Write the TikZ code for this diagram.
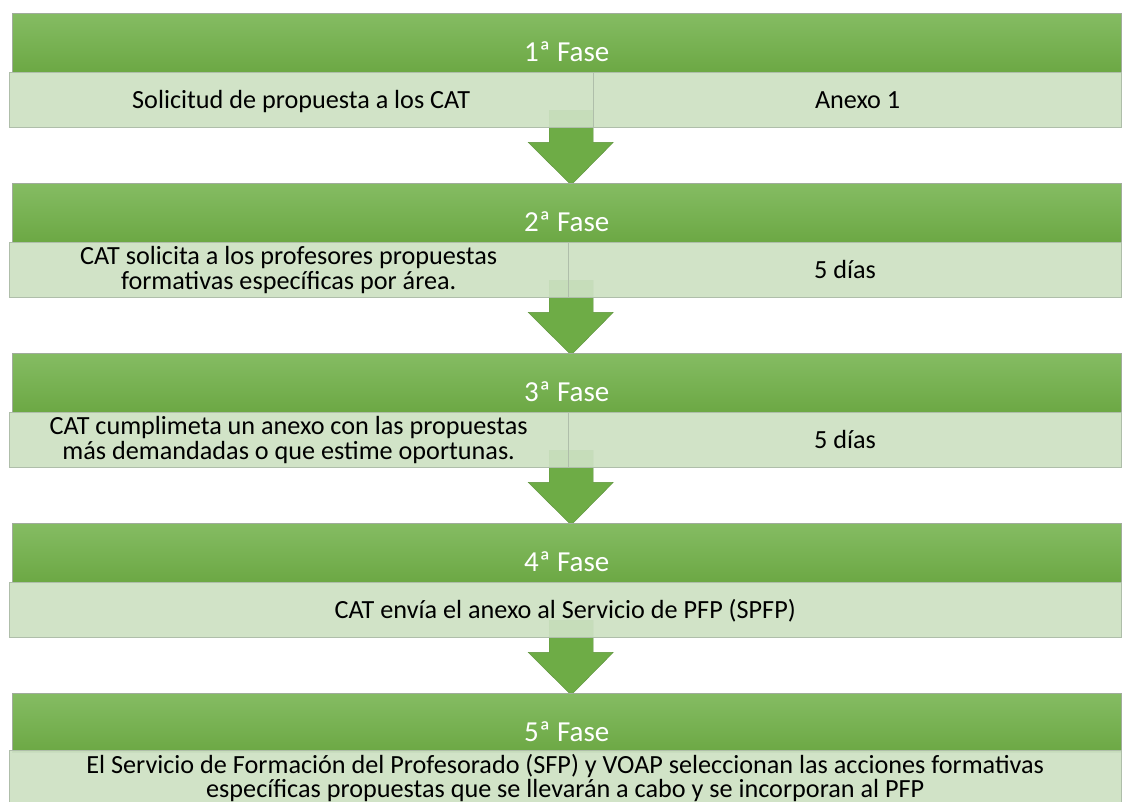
\documentclass[tikz,border=0pt]{standalone}
\usepackage{fontspec}
\setmainfont{Carlito}
\usetikzlibrary{positioning,calc,backgrounds}
\definecolor{faseTop}{RGB}{133,188,99}
\definecolor{faseBot}{RGB}{108,168,68}
\definecolor{faseEdge}{RGB}{160,172,155}
\definecolor{cellFill}{RGB}{205,225,195}
\definecolor{cellEdge}{RGB}{175,190,170}
\definecolor{arrowGreen}{RGB}{110,172,70}
\begin{document}
\begin{tikzpicture}[
    x=1pt, y=-1pt,
    fase/.style={draw=faseEdge, top color=faseTop, bottom color=faseBot, anchor=north west,
      minimum width=1109pt, inner sep=0pt, text height=48pt, text depth=11pt,
      text=white, font=\fontsize{29}{29}\selectfont},
    cell/.style={draw=cellEdge, fill=cellFill, fill opacity=0.93, text opacity=1,
      anchor=north west, minimum height=55pt, inner sep=0pt, align=center,
      font=\fontsize{26.2}{24.5}\selectfont},
    oneline/.style={text height=20pt, text depth=4pt},
    flecha/.style={fill=arrowGreen, draw=arrowGreen!85!black, line width=0.4pt},
  ]
    \useasboundingbox (0,0) rectangle (1123,801);
    % green header of each phase, one every 170px
    \foreach \n in {1,...,5} {
      \pgfmathsetmacro{\y}{13 + (\n-1)*170}
      \node[fase] (f\n) at (12,\y) {{\n}ª Fase};
    }
    % light rows under the headers
    \node[cell, oneline, minimum width=584pt] (c1a) at ($(f1.south west)+(-3,0)$) {Solicitud de propuesta a los CAT};
    \node[cell, oneline, minimum width=528pt, right=0pt of c1a] (c1b) {Anexo 1};
    \node[cell, minimum width=559pt] (c2a) at ($(f2.south west)+(-3,0)$)
      {CAT solicita a los profesores propuestas\\formativas específicas por área.};
    \node[cell, oneline, minimum width=553pt, right=0pt of c2a] (c2b) {5 días};
    \node[cell, minimum width=559pt] (c3a) at ($(f3.south west)+(-3,0)$)
      {CAT cumplimeta un anexo con las propuestas\\más demandadas o que estime oportunas.};
    \node[cell, oneline, minimum width=553pt, right=0pt of c3a] (c3b) {5 días};
    \node[cell, oneline, minimum width=1112pt] (c4) at ($(f4.south west)+(-3,0)$)
      {CAT envía el anexo al Servicio de PFP (SPFP)};
    \node[cell, minimum width=1112pt] (c5) at ($(f5.south west)+(-3,-2)$)
      {El Servicio de Formación del Profesorado (SFP) y VOAP seleccionan las acciones formativas\\
       específicas propuestas que se llevarán a cabo y se incorporan al PFP};
    % block arrows between phases, behind the rows
    \begin{pgfonlayer}{background}
      \foreach \n [evaluate=\n as \m using int(\n+1)] in {1,...,4} {
        \coordinate (p\n) at ($(f\n.south)+(4.5,55)$);
        \coordinate (t\n) at ($(f\m.north)+(4.5,2)$);
        \draw[flecha] ($(p\n)+(-22,-17)$) -- ($(p\n)+(22,-17)$) -- ($(p\n)+(22,15)$)
          -- ($(p\n)+(42,15)$) -- (t\n) -- ($(p\n)+(-43,15)$) -- ($(p\n)+(-22,15)$) -- cycle;
      }
    \end{pgfonlayer}
  \end{tikzpicture}
\end{document}
